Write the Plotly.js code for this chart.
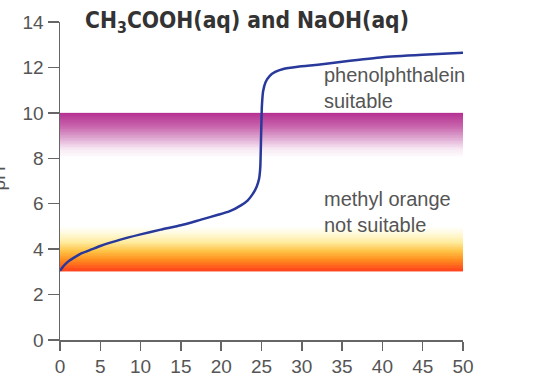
<!DOCTYPE html>
<html>
<head>
<meta charset="utf-8">
<script src="https://cdn.plot.ly/plotly-3.0.1.min.js"></script>
<style>html,body{margin:0;padding:0;background:#fff;}#chart{width:533px;height:384px;}</style>
</head>
<body>
<div id="chart"></div>
<script>
// Titration curve: volume of NaOH added (cm3) vs pH
var volume = [0, 0.5, 1, 2, 2.7, 4, 5, 7.5, 10, 12.5, 15, 17.5, 19.5, 21, 22.5, 23.3, 23.9, 24.4, 24.7, 24.85, 24.95, 25.05, 25.2, 25.5, 26, 26.7, 27.7, 29.5, 32, 35, 40, 45, 50];
var pH     = [3.05, 3.28, 3.45, 3.68, 3.82, 4.0, 4.14, 4.42, 4.65, 4.86, 5.05, 5.3, 5.5, 5.66, 5.94, 6.15, 6.42, 6.75, 7.1, 7.6, 9.0, 10.3, 10.95, 11.35, 11.62, 11.8, 11.93, 12.03, 12.12, 12.25, 12.45, 12.56, 12.65];

// indicator ranges (pH)
var phenolRange = [8, 10];
var methylRange = [3, 5];
var bandX = [0, 50];

var xTicks = [0, 5, 10, 15, 20, 25, 30, 35, 40, 45, 50];
var yTicks = [0, 2, 4, 6, 8, 10, 12, 14];

function gradientBand(range, strongAtTop, colorscale) {
  var n = 60, yEdges = [], z = [];
  for (var i = 0; i <= n; i++) yEdges.push(range[0] + (range[1] - range[0]) * i / n);
  for (var j = 0; j < n; j++) {
    var t = (j + 0.5) / n;
    z.push([strongAtTop ? t : 1 - t]);
  }
  return {
    type: 'heatmap', x: bandX, y: yEdges, z: z, zmin: 0, zmax: 1,
    colorscale: colorscale, showscale: false, hoverinfo: 'skip'
  };
}

var purple = gradientBand(phenolRange, true, [
  [0, 'rgb(255,255,255)'], [0.2, 'rgb(247,232,243)'], [0.45, 'rgb(222,165,208)'],
  [0.7, 'rgb(200,100,172)'], [1, 'rgb(181,48,146)']
]);
var orange = gradientBand(methylRange, false, [
  [0, 'rgb(255,255,255)'], [0.15, 'rgb(255,250,222)'], [0.35, 'rgb(255,236,160)'],
  [0.55, 'rgb(255,195,70)'], [0.75, 'rgb(255,140,30)'], [1, 'rgb(255,62,28)']
]);

var curve = {
  type: 'scatter', mode: 'lines', x: volume, y: pH,
  line: {color: '#28399b', width: 2.5, shape: 'spline', smoothing: 0.5},
  hoverinfo: 'skip'
};

var tickFont = {family: 'Liberation Sans, Arial, sans-serif', size: 19, color: '#555'};
var noteFont = {family: 'Liberation Sans, Arial, sans-serif', size: 20, color: '#555'};

var layout = {
  width: 533, height: 384,
  margin: {l: 60, r: 70, t: 22, b: 44},
  paper_bgcolor: '#fff', plot_bgcolor: '#fff',
  showlegend: false,
  title: {
    text: 'CH<sub>3</sub>COOH(aq) and NaOH(aq)',
    font: {family: 'DejaVu Sans Condensed, Liberation Sans Narrow, sans-serif', size: 22.6, color: '#333', weight: 'bold'},
    xref: 'container', yref: 'container', x: 247 / 533, xanchor: 'center', y: 1 - 20 / 384, yanchor: 'middle'
  },
  xaxis: {
    range: [0, 50], tickvals: xTicks, ticktext: xTicks.map(String),
    showgrid: false, zeroline: false, showline: true, linecolor: '#666', linewidth: 1.5,
    ticks: 'outside', ticklen: 9, tickwidth: 1.5, tickcolor: '#666',
    tickfont: tickFont, fixedrange: true
  },
  yaxis: {
    range: [0, 14], tickvals: yTicks, ticktext: yTicks.map(String),
    showgrid: false, zeroline: false, showline: true, linecolor: '#666', linewidth: 1.5,
    ticks: 'outside', ticklen: 11, tickwidth: 1.5, tickcolor: '#666',
    tickfont: tickFont, fixedrange: true
  },
  annotations: [
    {text: 'phenolphthalein<br>suitable', xref: 'x', yref: 'y', x: 32.5, y: 11.1,
     xanchor: 'left', yanchor: 'middle', align: 'left', showarrow: false, font: noteFont},
    {text: 'methyl orange<br>not suitable', xref: 'x', yref: 'y', x: 32.5, y: 5.64,
     xanchor: 'left', yanchor: 'middle', align: 'left', showarrow: false, font: noteFont},
    {text: 'pH', xref: 'paper', yref: 'y', x: -0.152, y: 7.1, textangle: -90,
     xanchor: 'center', yanchor: 'middle', showarrow: false, font: tickFont}
  ]
};

Plotly.newPlot('chart', [purple, orange, curve], layout, {displayModeBar: false, staticPlot: true});
</script>
</body>
</html>
